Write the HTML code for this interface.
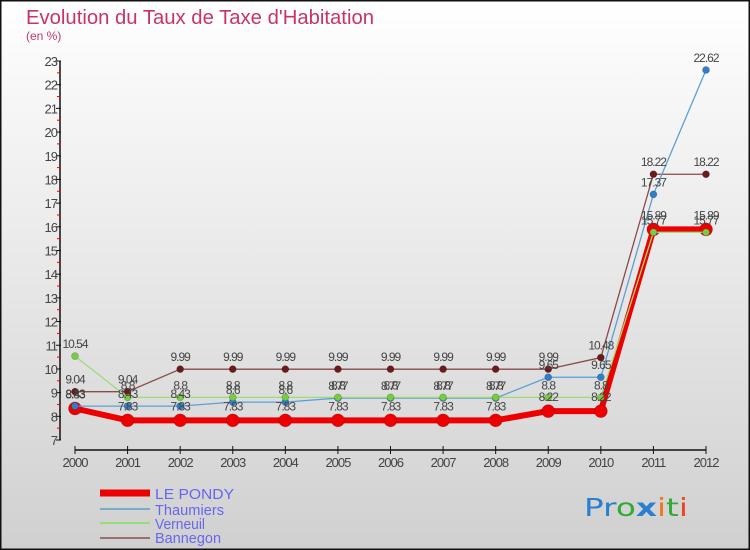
<!DOCTYPE html>
<html><head><meta charset="utf-8"><style>
html,body{margin:0;padding:0}
body{width:750px;height:550px;overflow:hidden;font-family:"Liberation Sans",sans-serif}
</style></head><body>
<svg id="chart" width="750" height="550" xmlns="http://www.w3.org/2000/svg" style="display:block">
<defs>
<linearGradient id="bg" x1="0" y1="0" x2="0" y2="1"><stop offset="0" stop-color="#ffffff"/><stop offset="1" stop-color="#d0d0d0"/></linearGradient>
</defs>
<rect x="0.5" y="0.5" width="749" height="549" fill="url(#bg)" stroke="#111" stroke-width="2"/>
<text x="26" y="24" font-size="20" fill="#c8346a" textLength="348" lengthAdjust="spacingAndGlyphs">Evolution du Taux de Taxe d'Habitation</text>
<text x="26" y="40" font-size="12" fill="#c8346a">(en %)</text>
<g id="axes"></g>
<g id="series"></g>
<g id="labels"></g>
<g>
<line x1="100" y1="493" x2="150" y2="493" stroke="#ee0000" stroke-width="7"/>
<text x="155" y="499" font-size="15" fill="#6666ee" textLength="79" lengthAdjust="spacingAndGlyphs">LE PONDY</text>
<line x1="100" y1="509" x2="150" y2="509" stroke="#7aaac8" stroke-width="2"/>
<text x="155" y="515" font-size="15" fill="#6666ee" textLength="69" lengthAdjust="spacingAndGlyphs">Thaumiers</text>
<line x1="100" y1="523" x2="150" y2="523" stroke="#99dd77" stroke-width="2"/>
<text x="155" y="529" font-size="15" fill="#6666ee" textLength="50" lengthAdjust="spacingAndGlyphs">Verneuil</text>
<line x1="100" y1="538" x2="150" y2="538" stroke="#997070" stroke-width="2"/>
<text x="155" y="543" font-size="15" fill="#6666ee" textLength="66" lengthAdjust="spacingAndGlyphs">Bannegon</text>
</g>
<text x="584" y="516" font-size="25" font-family="'DejaVu Sans',sans-serif" textLength="104" lengthAdjust="spacingAndGlyphs"><tspan fill="#2a7fd0">Pr</tspan><tspan fill="#33aa33">o</tspan><tspan fill="#2a7fd0" font-weight="bold">x</tspan><tspan fill="#ee7722">i</tspan><tspan fill="#33aa33">t</tspan><tspan fill="#ee4422">i</tspan></text>
</svg>
<script>
const years = [2000,2001,2002,2003,2004,2005,2006,2007,2008,2009,2010,2011,2012];
const lePondy = [8.33,7.83,7.83,7.83,7.83,7.83,7.83,7.83,7.83,8.22,8.22,15.89,15.89];
const thaumiers = [8.43,8.43,8.43,8.6,8.6,8.77,8.77,8.77,8.77,9.65,9.65,17.37,22.62];
const verneuil = [10.54,8.8,8.8,8.8,8.8,8.8,8.8,8.8,8.8,8.8,8.8,15.77,15.77];
const bannegon = [9.04,9.04,9.99,9.99,9.99,9.99,9.99,9.99,9.99,9.99,10.48,18.22,18.22];
const yTicks = [7,8,9,10,11,12,13,14,15,16,17,18,19,20,21,22,23];

const NS="http://www.w3.org/2000/svg";
const X0=75,X1=706,Y7=440,Y23=61;
function xs(i){return X0+(X1-X0)*i/(years.length-1);}
function ys(v){return Y7-(v-7)*(Y7-Y23)/16;}
function mk(tag,attrs,parent){const e=document.createElementNS(NS,tag);for(const k in attrs)e.setAttribute(k,attrs[k]);parent.appendChild(e);return e;}
const axes=document.getElementById('axes'),ser=document.getElementById('series'),lab=document.getElementById('labels');

let a=mk('line',{x1:60,y1:ys(7),x2:60,y2:ys(23),stroke:'#111','stroke-width':1.5},axes);


yTicks.forEach(t=>{
  mk('line',{x1:56,y1:ys(t),x2:61,y2:ys(t),stroke:'#111'},axes);
  if(t<23) mk('line',{x1:57,y1:ys(t+0.5),x2:61,y2:ys(t+0.5),stroke:'#e00'},axes);
  const tx=mk('text',{x:57,y:ys(t)+5,'font-size':13,fill:'#444','text-anchor':'end','letter-spacing':'-1'},axes);
  tx.textContent=t;
  
  
});
let xa=mk('line',{x1:X0,y1:450,x2:X1,y2:450,stroke:'#111','stroke-width':1.5},axes);


years.forEach((y,i)=>{
  mk('line',{x1:xs(i),y1:446,x2:xs(i),y2:454,stroke:'#111'},axes);
  const tx=mk('text',{x:xs(i),y:467,'font-size':13,fill:'#444','text-anchor':'middle','letter-spacing':'-1'},axes);
  tx.textContent=y;
  
  
});

function draw(vals,name,color,dot,w,r,off){
  const pts=vals.map((v,i)=>xs(i)+','+ys(v)).join(' ');
  const pl=mk('polyline',{points:pts,fill:'none',stroke:color,'stroke-width':w,'stroke-linejoin':'round'},ser);
  
  
  vals.forEach((v,i)=>{
    const c=mk('circle',{cx:xs(i),cy:ys(v),r:r,fill:dot,stroke:'rgba(0,0,0,0.2)','stroke-width':0.8},ser);
    
    
    const t=mk('text',{x:xs(i),y:ys(v)-off,'font-size':12,fill:'#444','text-anchor':'middle','letter-spacing':'-1'},lab);
    t.textContent=String(v);
    
    
  });
}
draw(lePondy,'le-pondy','#ee0000','#ee0000',6,6.5,10);
draw(bannegon,'bannegon','#8a4a4a','#6b1a1a',1.3,3.5,8);
draw(thaumiers,'thaumiers','#5aa0d8','#2f7fc8',1.3,3.5,8);
draw(verneuil,'verneuil','#99dd77','#77cc44',1.3,3.5,8);
</script>
</body></html>
